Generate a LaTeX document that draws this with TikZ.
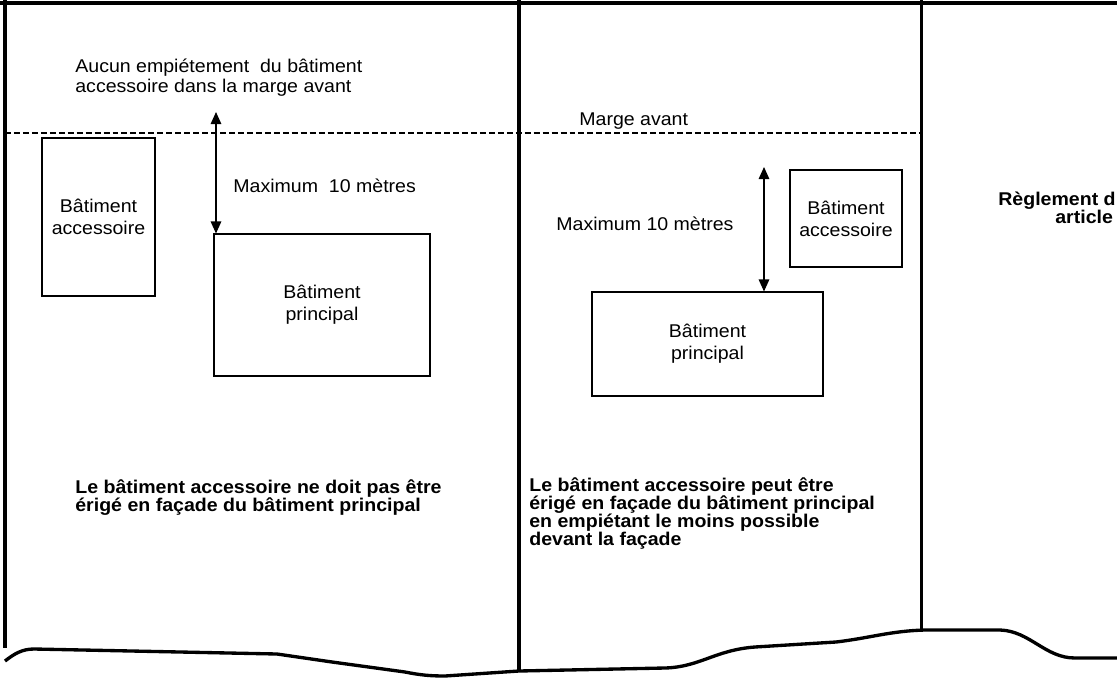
\documentclass[tikz,border=0pt]{standalone}
\usepackage{fontspec}
\setmainfont[FakeStretch=1.06]{Liberation Sans}
\usetikzlibrary{arrows.meta}
\tikzset{
  lot/.style={line width=1.9pt},
  batiment/.style={draw,line width=0.6pt,inner sep=0pt,align=center,font=\fontsize{10.5}{12.5}\selectfont},
  cote/.style={line width=0.7pt,{Triangle[length=0.24cm,width=0.21cm]}-{Triangle[length=0.24cm,width=0.21cm]}},
  texte/.style={inner sep=0pt,anchor=base west,align=left,font=\fontsize{10.5}{11.4}\selectfont},
  gras/.style={inner sep=0pt,anchor=base west,align=left,font=\fontsize{10.5}{10.2}\selectfont\bfseries}
}
\begin{document}
\begin{tikzpicture}[x=0.02cm,y=-0.02cm]
	\useasboundingbox (0,0) rectangle (1117,677);
	\draw[lot] (0,3) -- (1117,3);
	\draw[lot] (5,0) -- (5,648);
	\draw[lot] (519,0) -- (519,671);
	\draw[lot] (921.5,0) -- (921.5,630);
	\draw[lot] (5,661) .. controls (14,654) and (22,649) .. (34,649) -- (277,654) -- (332,662) -- (405,672) .. controls (420,675) and (430,676) .. (445,676) -- (519,671) -- (665,668) .. controls (700,667) and (715,650) .. (755,647) -- (836,642) .. controls (870,638) and (890,631) .. (925,630) -- (1000,630) .. controls (1030,631) and (1045,658) .. (1075,658) -- (1117,658);
	\draw[line width=0.75pt,dash pattern=on 3.4pt off 1.7pt] (5,133) -- (921.5,133);
	\node[batiment,minimum width=2.26cm,minimum height=3.16cm] (acc1) at (98.5,217) {Bâtiment\\accessoire};
	\node[batiment,minimum width=4.32cm,minimum height=2.84cm] (princ1) at (322,305) {Bâtiment\\principal};
	\node[batiment,minimum width=2.24cm,minimum height=1.94cm] (acc2) at (846,218.5) {Bâtiment\\accessoire};
	\node[batiment,minimum width=4.62cm,minimum height=2.08cm] (princ2) at (707.5,344) {Bâtiment\\principal};
	\coordinate (fleche1) at (216,112);
	\coordinate (fleche2) at (764,167);
	\draw[cote] (fleche1) -- (fleche1 |- princ1.north);
	\draw[cote] (fleche2) -- (fleche2 |- princ2.north);
	\node[texte] (aucun) at (75,92.7) {Aucun empiétement\ \ du bâtiment\\accessoire dans la marge avant};
	\node[texte] (max1) at (233,192) {Maximum\ \ 10 mètres};
	\node[texte] (marge) at (579,125) {Marge avant};
	\node[texte] (max2) at (556,230) {Maximum 10 mètres};
	\node[gras] (interdit) at (75,511) {Le bâtiment accessoire ne doit pas être\\érigé en façade du bâtiment principal};
	\node[gras] (permis) at (529,545) {Le bâtiment accessoire peut être\\érigé en façade du bâtiment principal\\en empiétant le moins possible\\devant la façade};
	\node[gras] (reglement) at (998,205) {Règlement d};
	\node[gras] (article) at (1055,223) {article};
\end{tikzpicture}
\end{document}
